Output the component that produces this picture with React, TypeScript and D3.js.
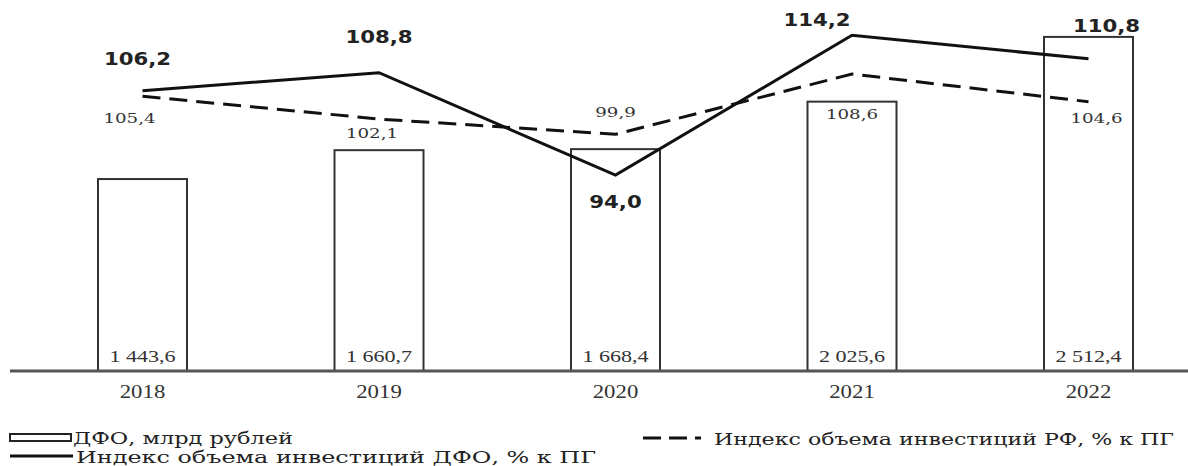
import React from 'react';
import * as d3 from 'd3';

const years = ['2018', '2019', '2020', '2021', '2022'];
const dfoInvest = [1443.6, 1660.7, 1668.4, 2025.6, 2512.4];
const dfoIndex = [106.2, 108.8, 94.0, 114.2, 110.8];
const rfIndex = [105.4, 102.1, 99.9, 108.6, 104.6];

const legendBars = 'ДФО, млрд рублей';
const legendDfo = 'Индекс объема инвестиций ДФО, % к ПГ';
const legendRf = 'Индекс объема инвестиций РФ, % к ПГ';

// label placement offsets (layout only)
const dfoLabelOffset: [number, number][] = [[-5, -26], [0, -30], [0, 33], [-35, -9], [18, -27]];
const rfLabelOffset: [number, number][] = [[-13, 27], [-7, 19], [0, -17], [0, 45], [8, 21]];

const W = 1188;
const H = 466;
const baseY = 371;

const fmtBar = (v: number) => d3.format(',.1f')(v).replace(/,/g, ' ').replace('.', ',');
const fmtIdx = (v: number) => d3.format('.1f')(v).replace('.', ',');

function SText(props: any) {
  const { x, y, sx = 1, children, ...rest } = props;
  return (
    <text transform={`translate(${x},${y}) scale(${sx},1)`} textAnchor="middle" {...rest}>
      {children}
    </text>
  );
}

export default function App() {
  const x = d3.scalePoint<string>().domain(years).range([142.5, 1088.5]);
  const yBar = d3.scaleLinear().domain([0, 2790]).range([baseY, 0]);
  const yIdx = d3.scaleLinear().domain([65.7, 119.3]).range([baseY, 0]);
  const barW = 89;

  const line = d3
    .line<number>()
    .x((_, i) => x(years[i]) as number)
    .y((d) => yIdx(d));

  return (
    <svg
      width={W}
      height={H}
      style={{ position: 'absolute', left: 0, top: 0, background: '#fff' }}
    >
      <rect x={0} y={0} width={W} height={H} fill="#fff" />
      {/* bars */}
      {dfoInvest.map((v, i) => (
        <rect
          key={'b' + i}
          x={(x(years[i]) as number) - barW / 2}
          y={yBar(v)}
          width={barW}
          height={baseY - yBar(v)}
          fill="#fff"
          stroke="#333"
          strokeWidth={2}
        />
      ))}
      {/* bar values */}
      {dfoInvest.map((v, i) => (
        <SText
          key={'bv' + i}
          x={x(years[i]) as number}
          y={362}
          sx={1.3}
          fontFamily="'Liberation Serif', serif"
          fontSize={17}
          fill="#333"
        >
          {fmtBar(v)}
        </SText>
      ))}
      {/* axis */}
      <line x1={10} x2={W} y1={baseY} y2={baseY} stroke="#555" strokeWidth={3} />
      {years.map((yr) => (
        <SText
          key={'y' + yr}
          x={x(yr) as number}
          y={398}
          sx={1.2}
          fontFamily="'Liberation Serif', serif"
          fontSize={19}
          fill="#333"
        >
          {yr}
        </SText>
      ))}
      {/* RF line */}
      <path
        d={line(rfIndex) || ''}
        fill="none"
        stroke="#111"
        strokeWidth={3}
        strokeDasharray="18 9"
      />
      {/* DFO line */}
      <path d={line(dfoIndex) || ''} fill="none" stroke="#111" strokeWidth={3} strokeLinejoin="miter" />
      {/* labels */}
      {dfoIndex.map((v, i) => (
        <SText
          key={'dl' + i}
          x={(x(years[i]) as number) + dfoLabelOffset[i][0]}
          y={yIdx(v) + dfoLabelOffset[i][1]}
          sx={1.18}
          fontFamily="'DejaVu Sans', sans-serif"
          fontWeight="bold"
          fontSize={18}
          fill="#222"
        >
          {fmtIdx(v)}
        </SText>
      ))}
      {rfIndex.map((v, i) => (
        <SText
          key={'rl' + i}
          x={(x(years[i]) as number) + rfLabelOffset[i][0]}
          y={yIdx(v) + rfLabelOffset[i][1]}
          sx={1.35}
          fontFamily="'DejaVu Serif', serif"
          fontSize={13.5}
          fill="#333"
        >
          {fmtIdx(v)}
        </SText>
      ))}
      {/* legend */}
      <rect x={10} y={434} width={61} height={7} fill="#fff" stroke="#222" strokeWidth={2} />
      <text
        x={73}
        y={444}
        fontFamily="'DejaVu Serif', serif"
        fontSize={17}
        fill="#222"
        textLength={220}
        lengthAdjust="spacingAndGlyphs"
      >
        {legendBars}
      </text>
      <line x1={10} x2={73} y1={456} y2={456} stroke="#111" strokeWidth={3} />
      <text
        x={76}
        y={463}
        fontFamily="'DejaVu Serif', serif"
        fontSize={17}
        fill="#222"
        textLength={520}
        lengthAdjust="spacingAndGlyphs"
      >
        {legendDfo}
      </text>
      <line x1={643} x2={711} y1={438} y2={438} stroke="#111" strokeWidth={3} strokeDasharray="18 8 18 8 6 40" />
      <text
        x={714}
        y={445}
        fontFamily="'DejaVu Serif', serif"
        fontSize={17}
        fill="#222"
        textLength={460}
        lengthAdjust="spacingAndGlyphs"
      >
        {legendRf}
      </text>
    </svg>
  );
}
